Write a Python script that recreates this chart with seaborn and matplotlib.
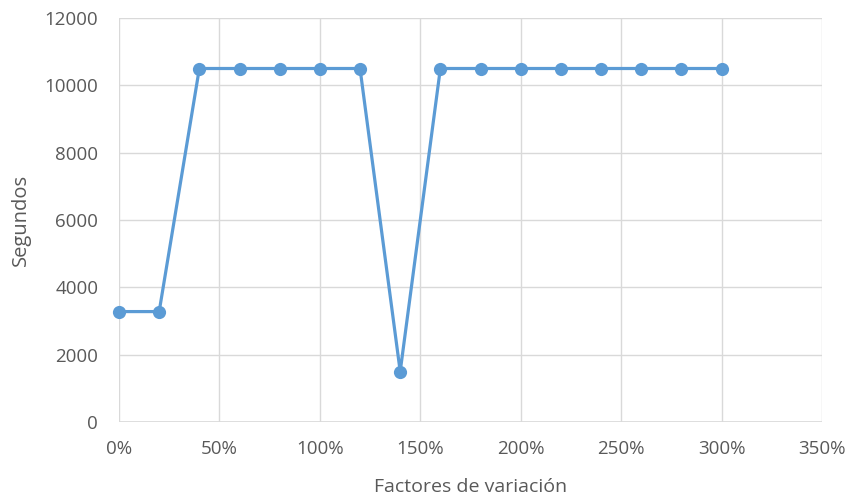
import matplotlib
matplotlib.use("Agg")
import matplotlib.pyplot as plt
import matplotlib.ticker as mticker
import seaborn as sns
import pandas as pd

# Variation factors (%) and the corresponding time in seconds
factores = [0, 20, 40, 60, 80, 100, 120, 140, 160, 180, 200, 220, 240, 260, 280, 300]
segundos = [3280, 3280, 10500, 10500, 10500, 10500, 10500, 1500,
            10500, 10500, 10500, 10500, 10500, 10500, 10500, 10500]
x_ticks = [0, 50, 100, 150, 200, 250, 300, 350]
y_ticks = [0, 2000, 4000, 6000, 8000, 10000, 12000]

df = pd.DataFrame({"factor": factores, "segundos": segundos})

sns.set_theme(style="white")
plt.rcParams["font.family"] = ["Open Sans", "DejaVu Sans"]

fig = plt.figure(figsize=(8.51, 4.99), dpi=100)
ax = fig.add_axes([119 / 851, 77 / 499, (822 - 119) / 851, (422 - 18) / 499])

sns.lineplot(data=df, x="factor", y="segundos", ax=ax, color="#5B9BD5",
             linewidth=2.3, marker="o", markersize=9.5, markeredgewidth=0,
             zorder=3, clip_on=False)

ax.set_xlim(0, 350)
ax.set_ylim(0, 12000)
ax.set_xticks(x_ticks)
ax.set_yticks(y_ticks)
ax.xaxis.set_major_formatter(mticker.FuncFormatter(lambda v, p: f"{int(v)}%"))

ax.grid(True, color="#D9D9D9", linewidth=1)
for s in ax.spines.values():
    s.set_visible(False)
ax.axhline(0, color="#D9D9D9", linewidth=1.2, zorder=1)

ax.tick_params(axis="both", length=0, labelsize=13.5, colors="#595959")
ax.tick_params(axis="x", pad=13)
ax.tick_params(axis="y", pad=15)

ax.set_xlabel("Factores de variación", fontsize=14, color="#595959", labelpad=14)
ax.set_ylabel("Segundos", fontsize=14.5, color="#595959", labelpad=10)

fig.savefig("out.png", dpi=100, facecolor="white")
